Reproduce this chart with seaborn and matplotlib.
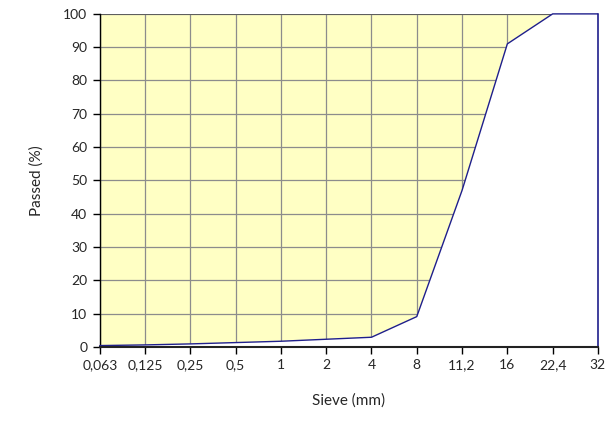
import numpy as np
import pandas as pd
import matplotlib
matplotlib.use("Agg")
import matplotlib.pyplot as plt
import seaborn as sns

# sieve sizes (categorical, equally spaced) and passing percentages
sieves = ["0,063", "0,125", "0,25", "0,5", "1", "2", "4", "8", "11,2", "16", "22,4", "32"]
passed = [0.4, 0.6, 0.9, 1.3, 1.7, 2.3, 2.9, 9.1, 47, 91, 100, 100]

df = pd.DataFrame({"pos": np.arange(len(sieves)), "passed": passed})

sns.set_theme(style="white")
plt.rcParams["font.family"] = ["Lato", "DejaVu Sans"]

fig = plt.figure(figsize=(6.12, 4.21), dpi=100)
ax = fig.add_axes([0.163, 0.176, 0.814, 0.791])
ax.set_facecolor("#FFFFC4")

navy = "#1F1F8C"
ax.fill_between(df["pos"], 0, df["passed"], facecolor="white", edgecolor="none", zorder=2)
sns.lineplot(data=df, x="pos", y="passed", color=navy, linewidth=1.0, ax=ax, zorder=3,
             clip_on=False)
ax.plot([df["pos"].iloc[-1]] * 2, [0, df["passed"].iloc[-1]], color=navy, linewidth=1.2,
        zorder=3, clip_on=False)

ax.set_xlim(0, len(sieves) - 1)
ax.set_ylim(0, 100)
ax.set_xticks(df["pos"])
ax.set_xticklabels(sieves)
ax.set_yticks(range(0, 101, 10))

ax.grid(True, color="#8C8C8C", linewidth=0.9, zorder=1)
ax.set_axisbelow(True)

for side in ["top", "right"]:
    ax.spines[side].set_visible(False)
ax.spines["left"].set_color("black")
ax.spines["left"].set_linewidth(1.0)
ax.spines["bottom"].set_color("#222222")
ax.spines["bottom"].set_linewidth(1.5)
ax.spines["bottom"].set_zorder(4)
ax.axhline(100, color="#555555", linewidth=1.2, zorder=1.5)

ax.tick_params(axis="both", direction="out", length=5, width=1, color="black",
               labelsize=10, pad=4, bottom=True, left=True)

ax.set_xlabel("Sieve (mm)", fontsize=11, labelpad=16)
ax.set_ylabel("Passed (%)", fontsize=11, labelpad=14)

fig.savefig("out.png", dpi=100)
